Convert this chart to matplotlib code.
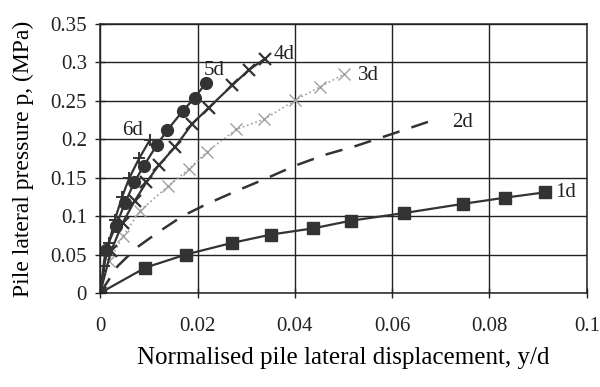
import matplotlib
matplotlib.use('Agg')
import matplotlib.pyplot as plt

plt.rcParams['font.family'] = ['Liberation Serif', 'DejaVu Serif']

# series (y/d, p in MPa)
x_1d = [0, 0.0093, 0.0176, 0.0270, 0.0351, 0.0437, 0.0515, 0.0625, 0.0746, 0.0832, 0.0915]
p_1d = [0, 0.033, 0.050, 0.065, 0.076, 0.084, 0.094, 0.104, 0.116, 0.124, 0.131]

x_2d = [0, 0.0036, 0.0075, 0.0119, 0.0169, 0.0220, 0.0281, 0.0341, 0.0402, 0.0463, 0.0524, 0.0605, 0.068]
p_2d = [0, 0.035, 0.059, 0.079, 0.100, 0.116, 0.133, 0.149, 0.166, 0.180, 0.191, 0.208, 0.224]

x_3d = [0, 0.0018, 0.0047, 0.0082, 0.0140, 0.0182, 0.0220, 0.0280, 0.0337, 0.0401, 0.0451, 0.0502]
p_3d = [0, 0.041, 0.074, 0.107, 0.139, 0.161, 0.184, 0.213, 0.226, 0.251, 0.268, 0.285]

x_4d = [0, 0.0022, 0.0046, 0.0071, 0.0095, 0.0120, 0.0154, 0.0189, 0.0223, 0.0271, 0.0305, 0.0339]
p_4d = [0, 0.054, 0.091, 0.120, 0.144, 0.166, 0.190, 0.220, 0.241, 0.270, 0.290, 0.305]

x_5d = [0, 0.0011, 0.0032, 0.0051, 0.0070, 0.0089, 0.0117, 0.0138, 0.0170, 0.0194, 0.0217]
p_5d = [0, 0.056, 0.087, 0.117, 0.144, 0.165, 0.193, 0.212, 0.237, 0.254, 0.273]

x_6d = [0, 0.0008, 0.0018, 0.0030, 0.0045, 0.0060, 0.0080, 0.0102]
p_6d = [0, 0.035, 0.065, 0.095, 0.125, 0.150, 0.175, 0.199]

# curve labels: (text, x, y)
labels = [('1d', 0.0935, 0.131), ('2d', 0.0723, 0.222), ('3d', 0.0529, 0.283),
          ('4d', 0.0357, 0.310), ('5d', 0.0212, 0.290), ('6d', 0.0045, 0.211)]

xticks = [0, 0.02, 0.04, 0.06, 0.08, 0.1]
xticklabels = ['0', '0.02', '0.04', '0.06', '0.08', '0.1']
yticks = [0, 0.05, 0.1, 0.15, 0.2, 0.25, 0.3, 0.35]
yticklabels = ['0', '0.05', '0.1', '0.15', '0.2', '0.25', '0.3', '0.35']

fig = plt.figure(figsize=(6, 3.87), dpi=100)
ax = fig.add_axes([0.167, 0.243, 0.811, 0.695])

dark = '#333333'
ax.plot(x_1d, p_1d, color=dark, lw=1.6, marker='s', ms=8, mfc=dark, mec=dark)
ax.plot(x_2d, p_2d, color=dark, lw=1.8, dashes=(7, 5))
ax.plot(x_3d, p_3d, color='#a0a0a0', lw=1.2, ls=':', marker='x', ms=8, mew=1.0)
ax.plot(x_6d, p_6d, color=dark, lw=1.6, marker='+', ms=8, mew=1.4)
ax.plot(x_4d, p_4d, color=dark, lw=1.6, marker='x', ms=8, mew=1.6)
ax.plot(x_5d, p_5d, color=dark, lw=1.6, marker='o', ms=8.5, mfc=dark, mec=dark)

for txt, tx, ty in labels:
    ax.text(tx, ty, txt, fontsize=15, ha='left', va='center', color='#222222')

ax.set_xlim(0, 0.1)
ax.set_ylim(0, 0.35)
ax.set_xticks(xticks)
ax.set_xticklabels(xticklabels)
ax.set_yticks(yticks)
ax.set_yticklabels(yticklabels)
ax.tick_params(axis='both', direction='inout', length=7, width=1, colors='#222222', labelsize=15)
ax.tick_params(axis='x', pad=14)
ax.tick_params(axis='y', pad=6)
ax.grid(True, color='#222222', lw=1)
for s in ax.spines.values():
    s.set_color('#222222')
    s.set_linewidth(1.1)

ax.set_xlabel('Normalised pile lateral displacement, y/d', fontsize=18, labelpad=8)
ax.set_ylabel('Pile lateral pressure p, (MPa)', fontsize=17, labelpad=12)

fig.savefig('out.png', dpi=100)
